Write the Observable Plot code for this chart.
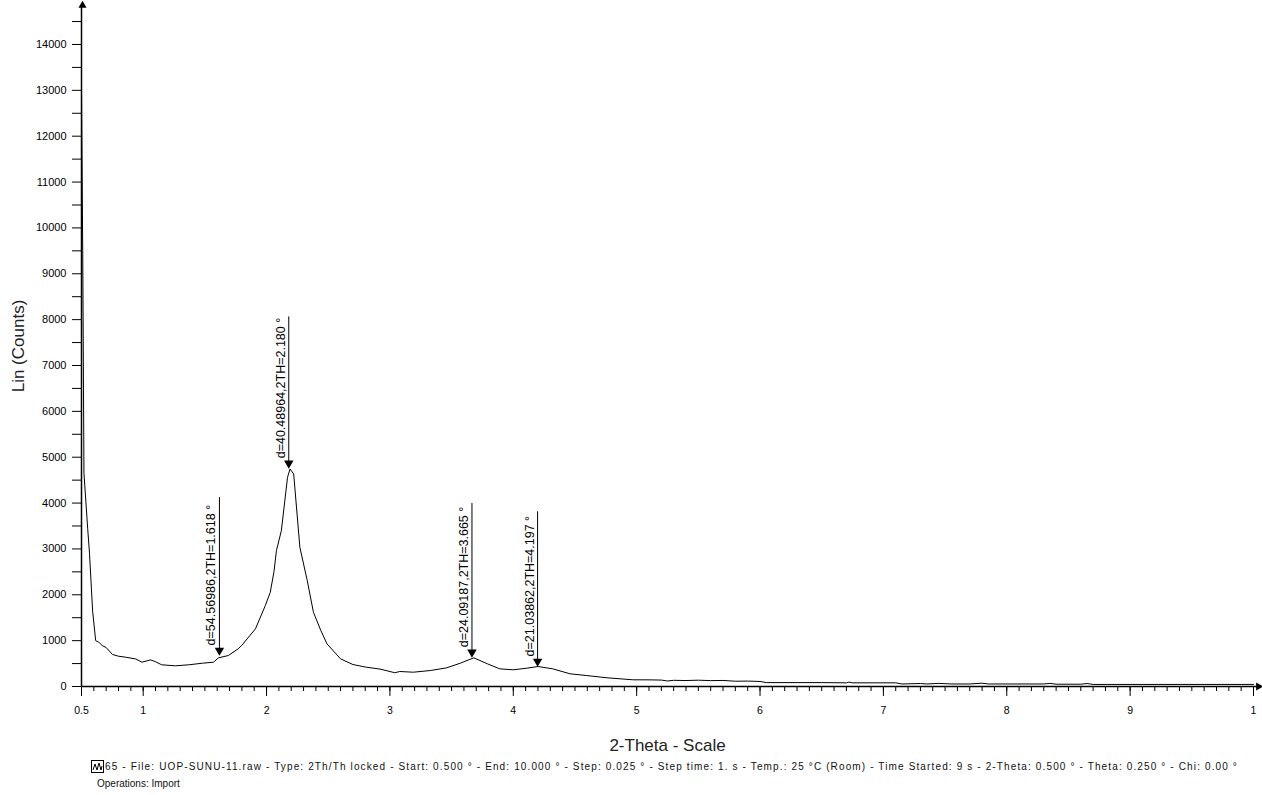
<!DOCTYPE html>
<html><head><meta charset="utf-8">
<script src="https://cdn.jsdelivr.net/npm/d3@7"></script>
<script src="https://cdn.jsdelivr.net/npm/@observablehq/plot@0.6"></script>
<style>
body{margin:0;background:#fff;font-family:"Liberation Sans",Arial,sans-serif;}
#chart{position:absolute;left:0;top:0;}
#chart svg [aria-label="x-axis label"] text,#chart svg [aria-label="y-axis label"] text{font-size:17px;fill:#222;}
#cap1{position:absolute;left:91px;top:760px;font-size:10px;color:#111;white-space:nowrap;display:flex;align-items:center;}
#cap2{position:absolute;left:97px;top:778px;font-size:10px;color:#111;white-space:nowrap;}
#icon{display:inline-block;width:11px;height:11px;border:1px solid #000;margin-right:1px;}
</style></head><body>
<div id="chart"></div>
<div id="cap1"><span id="icon"></span><span id="capText"></span></div>
<div id="cap2"></div>
<script>
// ---- data ----
const twoTheta = [0.500,0.510,0.520,0.550,0.565,0.590,0.615,0.640,0.668,0.700,0.750,0.800,0.856,0.940,0.990,1.060,1.100,1.150,1.260,1.370,1.480,1.570,1.610,1.690,1.770,1.800,1.910,1.990,2.030,2.060,2.080,2.120,2.170,2.190,2.220,2.270,2.330,2.380,2.440,2.490,2.600,2.700,2.810,2.920,3.040,3.080,3.190,3.330,3.460,3.570,3.680,3.790,3.890,4.000,4.110,4.200,4.320,4.460,4.590,4.760,4.970,5.100,5.200,5.250,5.300,5.400,5.500,5.600,5.700,5.800,5.900,6.000,6.050,6.500,6.700,6.720,6.750,7.100,7.150,7.300,7.350,7.450,7.550,7.700,7.800,7.850,8.300,8.350,8.400,8.600,8.650,8.700,10.000];
const counts = [13000,9500,4650,3450,2900,1650,1000,965,893,850,700,660,640,600,530,580,540,473,451,473,508,530,625,675,821,900,1257,1765,2054,2500,2963,3399,4560,4743,4634,3035,2309,1619,1220,930,603,479,420,380,300,327,312,349,407,508,625,495,385,364,399,436,385,277,240,190,146,145,140,120,135,130,138,128,132,115,118,110,85,85,80,95,80,80,55,65,55,68,55,55,72,55,55,68,50,50,65,45,45];
const peakTheta = [1.618, 2.180, 3.665, 4.197];
const peakTop = [4120, 8060, 3990, 3810];
const peakTip = [700, 4780, 660, 460];
const peakLabels = ["d=54.56986,2TH=1.618 °","d=40.48964,2TH=2.180 °","d=24.09187,2TH=3.665 °","d=21.03862,2TH=4.197 °"];
const yTicks = d3.range(0, 15000, 500);
const xMajorTicks = [0.5,1,2,3,4,5,6,7,8,9,10];
const xMajorLabels = ["0.5","1","2","3","4","5","6","7","8","9","1"];
const xMinorTicks = d3.range(6, 100, 1).map(d => d / 10);
const yLabel = "Lin (Counts)";
const xLabel = "2-Theta - Scale";
const captionLine1 = "65 - File: UOP-SUNU-11.raw - Type: 2Th/Th locked - Start: 0.500 ° - End: 10.000 ° - Step: 0.025 ° - Step time: 1. s - Temp.: 25 °C (Room) - Time Started: 9 s - 2-Theta: 0.500 ° - Theta: 0.250 ° - Chi: 0.00 °";
const captionLine2 = "Operations: Import";

const scan = twoTheta.map((x, i) => ({x, y: counts[i]}));
const peaks = peakTheta.map((x, i) => ({x, top: peakTop[i], tip: peakTip[i], label: peakLabels[i]}));
const yMax = 14850, xMax = 10.04;

const chart = Plot.plot({
  width: 1262, height: 755,
  marginLeft: 81, marginRight: 9, marginTop: 5, marginBottom: 69,
  style: {fontFamily: "Liberation Sans, Arial, sans-serif", color: "#000", background: "#fff"},
  x: {domain: [0.5, 10]},
  y: {domain: [0, yMax]},
  marks: [
    Plot.axisY({ticks: yTicks, tickSize: 9, tickPadding: 6, fontSize: 11,
      tickFormat: d => d % 1000 === 0 ? String(d) : "",
      label: yLabel, labelArrow: "none", labelAnchor: "center", labelOffset: 70}),
    Plot.axisX({ticks: xMinorTicks, tickSize: 5, tickFormat: () => "", label: null}),
    Plot.axisX({ticks: xMajorTicks, tickSize: 10, tickPadding: 10, fontSize: 10.5,
      tickFormat: (d) => xMajorLabels[xMajorTicks.indexOf(d)],
      label: xLabel, labelArrow: "none", labelAnchor: "center", labelOffset: 64}),
    Plot.ruleX([0.5], {y1: 0, y2: yMax, stroke: "#000", strokeWidth: 1.5}),
    Plot.ruleY([0], {x1: 0.5, x2: xMax, stroke: "#000", strokeWidth: 1.5}),
    Plot.dot([{x: 0.5, y: yMax}], {x: "x", y: "y", symbol: "triangle", r: 3, fill: "#000", stroke: null, dx: 1}),
    Plot.dot([{x: xMax, y: 0}], {x: "x", y: "y", symbol: "triangle", r: 3, fill: "#000", stroke: null, rotate: 90}),
    Plot.line(scan, {x: "x", y: "y", stroke: "#000", strokeWidth: 1}),
    Plot.ruleX(peaks, {x: "x", y1: "tip", y2: "top", stroke: "#000", strokeWidth: 1}),
    Plot.dot(peaks, {x: "x", y: "tip", symbol: "triangle", r: 3.5, rotate: 180, fill: "#000", stroke: null, dy: -4}),
    Plot.text(peaks, {x: "x", y: "tip", text: "label", rotate: -90, textAnchor: "start", fontSize: 12.5, dx: -8, dy: -9, fill: "#000"})
  ]
});
// strip any automatic arrows from axis labels
chart.querySelectorAll('[aria-label="x-axis label"] text, [aria-label="y-axis label"] text').forEach(t => {
  t.textContent = t.textContent.replace(/\s*[→←↑↓]\s*/g, "");
});
document.getElementById("chart").append(chart);

// caption
const capText = document.getElementById("capText");
capText.textContent = captionLine1;
document.getElementById("cap2").textContent = captionLine2;
const target = 1238 - 105;
const w = capText.getBoundingClientRect().width;
capText.style.letterSpacing = ((target - w) / captionLine1.length) + "px";
const icon = document.getElementById("icon");
icon.innerHTML = '<svg width="11" height="11"><polyline points="1,9 3,3 5,9 7,2 9,9 10,5" fill="none" stroke="#000" stroke-width="1"/></svg>';
</script>
</body></html>
